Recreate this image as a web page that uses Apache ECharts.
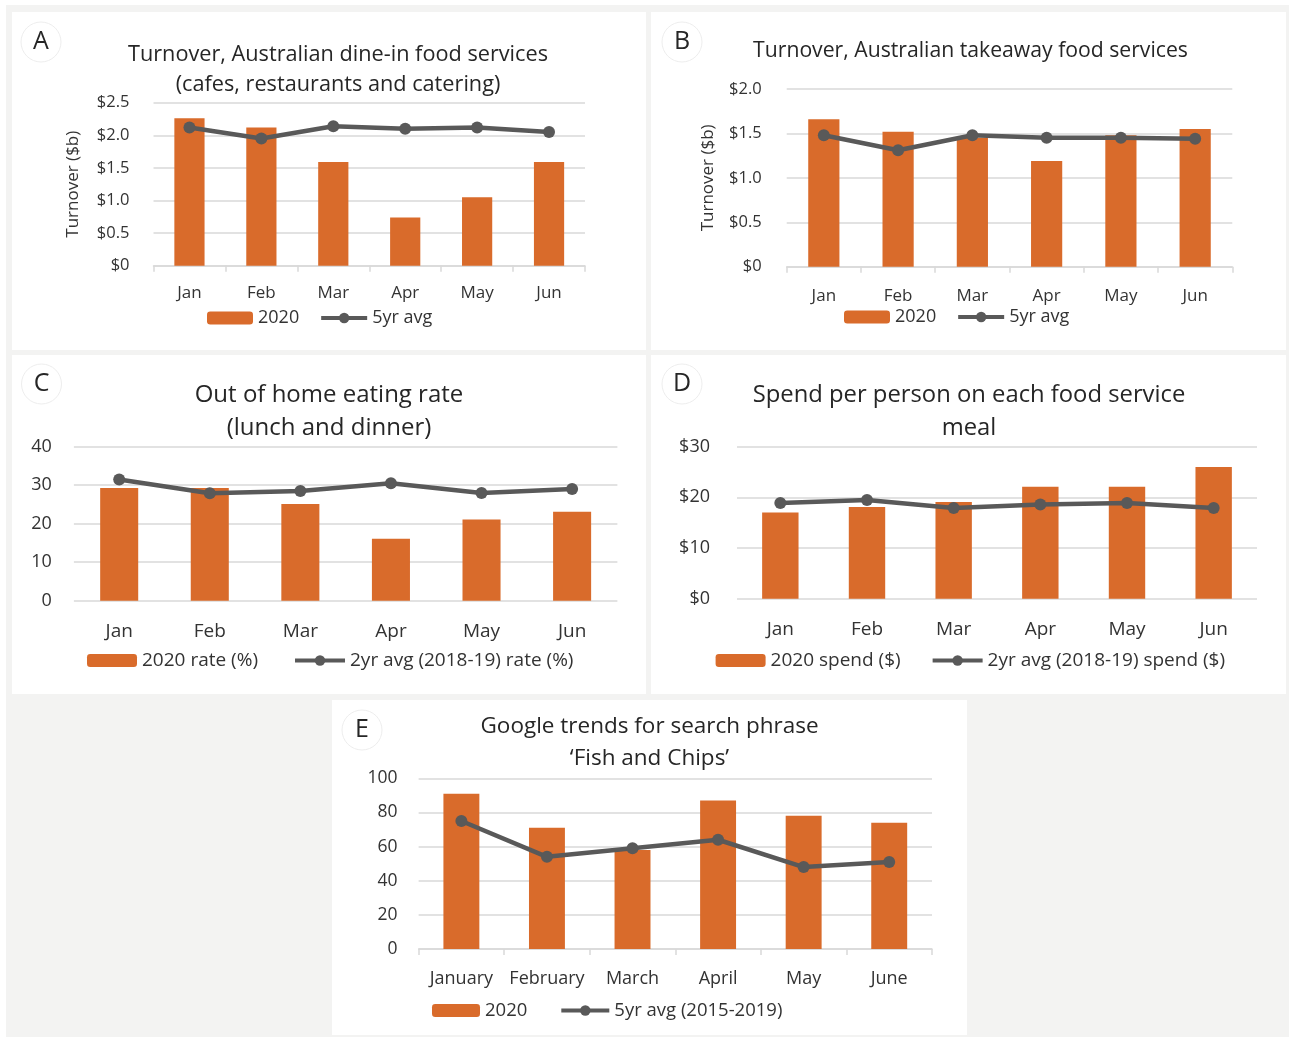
<!DOCTYPE html>
<html>
<head>
<meta charset="utf-8">
<script src="https://cdn.jsdelivr.net/npm/echarts@6/dist/echarts.min.js"></script>
<style>
  html, body { margin: 0; padding: 0; background: #ffffff; }
  #frame { position: absolute; left: 6px; top: 5px; width: 1283px; height: 1032px; background: #f3f3f2; }
  .panel { position: absolute; background: #ffffff; }
</style>
</head>
<body>
<div id="frame"></div>
<div id="chartA" class="panel" style="left:12px;top:12px;width:634px;height:338px"></div>
<div id="chartB" class="panel" style="left:651px;top:12px;width:635px;height:338px"></div>
<div id="chartC" class="panel" style="left:12px;top:355px;width:634px;height:339px"></div>
<div id="chartD" class="panel" style="left:651px;top:355px;width:635px;height:339px"></div>
<div id="chartE" class="panel" style="left:332px;top:700px;width:635px;height:335px"></div>
<script>
// categories
const monthsShort = ['Jan', 'Feb', 'Mar', 'Apr', 'May', 'Jun'];
const monthsLong = ['January', 'February', 'March', 'April', 'May', 'June'];

// A: dine-in turnover ($b)
const dineIn2020 = [2.26, 2.12, 1.59, 0.74, 1.05, 1.59];
const dineIn5yrAvg = [2.12, 1.95, 2.14, 2.10, 2.12, 2.05];

// B: takeaway turnover ($b)
const takeaway2020 = [1.66, 1.52, 1.45, 1.19, 1.48, 1.55];
const takeaway5yrAvg = [1.48, 1.31, 1.48, 1.45, 1.45, 1.44];

// C: out of home eating rate (%)
const eatRate2020 = [29.3, 29.3, 25.1, 16.1, 21.1, 23.1];
const eatRate2yrAvg = [31.5, 27.9, 28.5, 30.5, 28.0, 29.0];

// D: spend per person ($)
const spend2020 = [17.0, 18.1, 19.1, 22.1, 22.1, 26.0];
const spend2yrAvg = [18.9, 19.5, 17.9, 18.6, 18.9, 17.9];

// E: google trends 'Fish and Chips'
const fishChips2020 = [91, 71, 58, 87, 78, 74];
const fishChips5yrAvg = [75, 54, 59, 64, 48, 51];

const FONT = '"Open Sans", "Noto Sans", sans-serif';
const ORANGE = '#D96B2B';
const GREY_LINE = '#595959';
const GRID = '#d9d9d9';
const TEXT = '#333333';

const dollar1 = v => v === 0 ? '$0' : '$' + v.toFixed(1);
const dollar0 = v => '$' + v;

function buildOption(cfg) {
  const graphics = [
    {
      type: 'circle',
      shape: { cx: cfg.letterPos[0], cy: cfg.letterPos[1], r: 20 },
      style: { fill: '#ffffff', stroke: '#ededed', lineWidth: 1 }
    },
    {
      type: 'text',
      x: cfg.letterPos[0], y: cfg.letterPos[1],
      style: {
        text: cfg.letter, align: 'center', verticalAlign: 'middle',
        fontSize: 25, fontFamily: FONT, fill: '#262626'
      }
    }
  ];
  cfg.titleLines.forEach((line, i) => {
    graphics.push({
      type: 'text',
      x: cfg.titleX, y: cfg.titleY[i],
      style: {
        text: line, align: 'center', verticalAlign: 'middle',
        fontSize: cfg.titleSize, fontFamily: FONT, fill: '#262626'
      }
    });
  });

  return {
    animation: false,
    textStyle: { fontFamily: FONT },
    graphic: graphics,
    grid: cfg.grid,
    legend: {
      left: cfg.legendLeft,
      top: cfg.legendTop,
      itemWidth: cfg.legendItemWidth,
      itemHeight: 13,
      itemGap: cfg.legendGap,
      lineStyle: { width: 4 },
      textStyle: { fontSize: cfg.legendSize, color: TEXT, fontFamily: FONT },
      data: [cfg.barName, cfg.lineName]
    },
    xAxis: {
      type: 'category',
      data: cfg.categories,
      axisLine: { show: cfg.showAxisLine, lineStyle: { color: GRID, width: 1.5 } },
      axisTick: { show: cfg.showAxisLine, length: 6, lineStyle: { color: GRID, width: 1.5 } },
      axisLabel: { fontSize: cfg.catSize, color: TEXT, margin: cfg.catMargin, fontFamily: FONT, interval: 0 }
    },
    yAxis: {
      type: 'value',
      min: 0,
      max: cfg.yMax,
      interval: cfg.yInterval,
      name: cfg.yName || '',
      nameLocation: 'middle',
      nameGap: cfg.yNameGap || 0,
      nameTextStyle: { fontSize: 17, color: TEXT, fontFamily: FONT },
      axisLine: { show: false },
      axisTick: { show: false },
      axisLabel: {
        fontSize: cfg.valSize, color: TEXT, margin: cfg.valMargin, fontFamily: FONT,
        formatter: cfg.valFormatter
      },
      splitLine: { lineStyle: { color: GRID, width: 1.5 } }
    },
    series: [
      {
        name: cfg.barName,
        type: 'bar',
        data: cfg.barData,
        barWidth: '42%',
        itemStyle: { color: ORANGE }
      },
      {
        name: cfg.lineName,
        type: 'line',
        data: cfg.lineData,
        symbol: 'circle',
        symbolSize: 12,
        lineStyle: { color: GREY_LINE, width: 4.5 },
        itemStyle: { color: GREY_LINE }
      }
    ]
  };
}

const panels = [
  {
    id: 'chartA', letter: 'A', letterPos: [29, 30],
    titleLines: ['Turnover, Australian dine-in food services', '(cafes, restaurants and catering)'],
    titleX: 326, titleY: [43, 73], titleSize: 21.7,
    grid: { left: 141.5, right: 61, top: 90.7, bottom: 84.3 },
    categories: monthsShort, showAxisLine: true, catSize: 17, catMargin: 19,
    yMax: 2.5, yInterval: 0.5, valSize: 16.5, valMargin: 24, valFormatter: dollar1,
    yName: 'Turnover ($b)', yNameGap: 72,
    barName: '2020', lineName: '5yr avg', barData: dineIn2020, lineData: dineIn5yrAvg,
    legendLeft: 190, legendTop: 292, legendItemWidth: 46, legendGap: 20, legendSize: 18
  },
  {
    id: 'chartB', letter: 'B', letterPos: [31, 30],
    titleLines: ['Turnover, Australian takeaway food services'],
    titleX: 319.5, titleY: [39], titleSize: 21.2,
    grid: { left: 135.7, right: 53.7, top: 77, bottom: 83.3 },
    categories: monthsShort, showAxisLine: true, catSize: 17, catMargin: 21,
    yMax: 2.0, yInterval: 0.5, valSize: 16.5, valMargin: 25, valFormatter: dollar1,
    yName: 'Turnover ($b)', yNameGap: 70,
    barName: '2020', lineName: '5yr avg', barData: takeaway2020, lineData: takeaway5yrAvg,
    legendLeft: 188, legendTop: 291, legendItemWidth: 46, legendGap: 20, legendSize: 18
  },
  {
    id: 'chartC', letter: 'C', letterPos: [29.5, 29],
    titleLines: ['Out of home eating rate', '(lunch and dinner)'],
    titleX: 317, titleY: [40, 73], titleSize: 24,
    grid: { left: 61.9, right: 28.6, top: 91.7, bottom: 93.3 },
    categories: monthsShort, showAxisLine: false, catSize: 19, catMargin: 21,
    yMax: 40, yInterval: 10, valSize: 18, valMargin: 22, valFormatter: v => String(v),
    barName: '2020 rate (%)', lineName: '2yr avg (2018-19) rate (%)',
    barData: eatRate2020, lineData: eatRate2yrAvg,
    legendLeft: 70, legendTop: 291, legendItemWidth: 50, legendGap: 35, legendSize: 19
  },
  {
    id: 'chartD', letter: 'D', letterPos: [31, 29],
    titleLines: ['Spend per person on each food service', 'meal'],
    titleX: 318, titleY: [40, 73], titleSize: 23.8,
    grid: { left: 86, right: 29, top: 91.7, bottom: 95.3 },
    categories: monthsShort, showAxisLine: false, catSize: 19, catMargin: 21,
    yMax: 30, yInterval: 10, valSize: 18, valMargin: 27, valFormatter: dollar0,
    barName: '2020 spend ($)', lineName: '2yr avg (2018-19) spend ($)',
    barData: spend2020, lineData: spend2yrAvg,
    legendLeft: 59.6, legendTop: 291, legendItemWidth: 50, legendGap: 30, legendSize: 19
  },
  {
    id: 'chartE', letter: 'E', letterPos: [30, 30],
    titleLines: ['Google trends for search phrase', '\u2018Fish and Chips\u2019'],
    titleX: 317.5, titleY: [27, 59], titleSize: 22.5,
    grid: { left: 86.6, right: 35, top: 78.3, bottom: 86 },
    categories: monthsLong, showAxisLine: true, catSize: 18, catMargin: 21,
    yMax: 100, yInterval: 20, valSize: 17.5, valMargin: 21, valFormatter: v => String(v),
    barName: '2020', lineName: '5yr avg (2015-2019)',
    barData: fishChips2020, lineData: fishChips5yrAvg,
    legendLeft: 95, legendTop: 296, legendItemWidth: 48, legendGap: 32, legendSize: 18.5
  }
];

panels.forEach(cfg => {
  const chart = echarts.init(document.getElementById(cfg.id), null, { renderer: 'canvas' });
  chart.setOption(buildOption(cfg));
});
</script>
</body>
</html>
